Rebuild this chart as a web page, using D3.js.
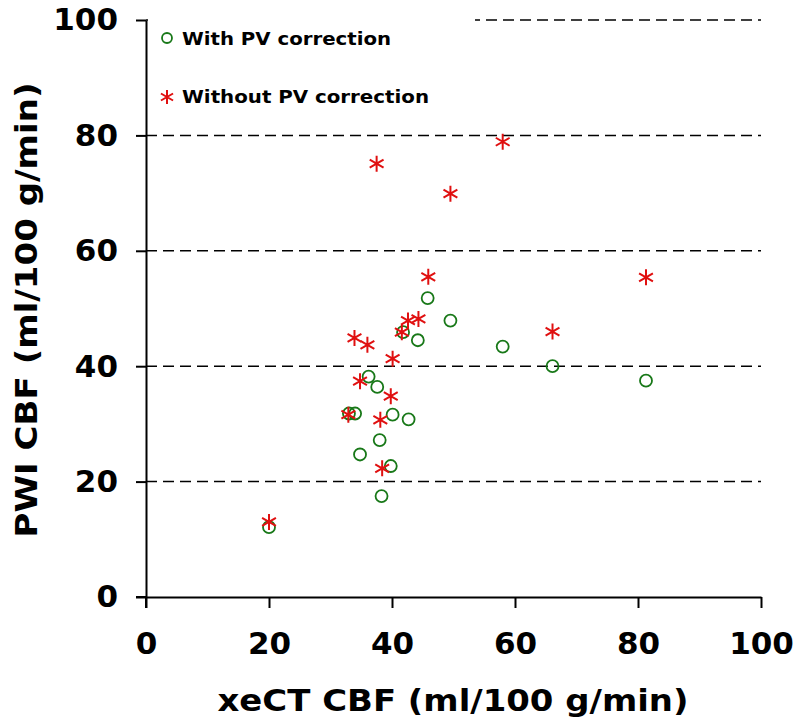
<!DOCTYPE html>
<html>
<head>
<meta charset="utf-8">
<script src="https://cdn.jsdelivr.net/npm/d3@7"></script>
<style>
  body { margin: 0; background: #fff; }
  text { font-family: "DejaVu Sans", Verdana, sans-serif; font-weight: bold; }
</style>
</head>
<body>
<div id="chart"></div>
<script>
// values
var withX    = [45.8, 49.5, 41.8, 44.2, 58.0, 36.2, 37.6, 34.0, 33.0, 40.1, 42.7, 38.0, 34.8, 39.8, 38.3, 20.0, 66.1, 81.3];
var withY    = [51.8, 47.9, 45.9, 44.5, 43.4, 38.2, 36.4, 31.8, 31.8, 31.6, 30.8, 27.2, 24.7, 22.7, 17.5, 12.1, 40.0, 37.5];
var withoutX = [20.0, 37.5, 58.0, 49.5, 45.9, 81.3, 66.1, 42.6, 44.3, 41.6, 33.9, 36.0, 40.1, 34.8, 39.8, 32.9, 38.1, 38.4];
var withoutY = [13.0, 75.1, 78.9, 69.9, 55.5, 55.4, 46.0, 47.9, 48.2, 45.9, 44.9, 43.7, 41.3, 37.4, 34.8, 31.6, 30.7, 22.3];
var xTicks = [0, 20, 40, 60, 80, 100];
var yTicks = [0, 20, 40, 60, 80, 100];
var gridValues = [20, 40, 60, 80, 100];
var seriesNames = ["With PV correction", "Without PV correction"];

var W = 800, H = 726;
var margin = {top: 20, right: 39, bottom: 129, left: 146},
    width = W - margin.left - margin.right,
    height = H - margin.top - margin.bottom;

var svg = d3.select("#chart")
  .append("svg")
    .attr("width", W)
    .attr("height", H);

var g = svg.append("g")
    .attr("transform", "translate(" + margin.left + "," + margin.top + ")");

var x = d3.scaleLinear().domain([0, 100]).range([0, width]);
var y = d3.scaleLinear().domain([0, 100]).range([height, 0]);

// dashed gridlines
g.selectAll("line.grid")
  .data(gridValues)
  .enter()
  .append("line")
    .attr("class", "grid")
    .attr("x1", 0)
    .attr("x2", x(100))
    .attr("y1", function(d) { return y(d); })
    .attr("y2", function(d) { return y(d); })
    .attr("stroke", "#000")
    .attr("stroke-width", 1.5)
    .attr("stroke-dasharray", "11,6");

// legend background hides the top gridline on the left
g.append("rect")
    .attr("x", 2)
    .attr("y", -margin.top)
    .attr("width", x(53.5) - 2)
    .attr("height", 110)
    .attr("fill", "#fff");

// axes
var xAxis = g.append("g")
    .attr("transform", "translate(0," + height + ")")
    .call(d3.axisBottom(x).tickValues(xTicks).tickSize(11).tickSizeOuter(0).tickPadding(24));
var yAxis = g.append("g")
    .call(d3.axisLeft(y).tickValues(yTicks).tickSize(10).tickSizeOuter(0).tickPadding(18));

[xAxis, yAxis].forEach(function(a) {
  a.select(".domain").attr("stroke-width", 2);
  a.selectAll(".tick line").attr("stroke-width", 2);
  a.selectAll(".tick text")
    .attr("font-family", "DejaVu Sans, Verdana, sans-serif")
    .attr("font-weight", "bold")
    .attr("font-size", 31)
    .attr("fill", "#000");
});
// extend axis lines a little past the origin
g.append("line").attr("x1", -10).attr("x2", 0).attr("y1", y(0)).attr("y2", y(0)).attr("stroke", "#000").attr("stroke-width", 2);
g.append("line").attr("x1", 0).attr("x2", 0).attr("y1", y(0)).attr("y2", y(0) + 11).attr("stroke", "#000").attr("stroke-width", 2);

// axis titles
svg.append("text")
    .attr("x", 453)
    .attr("y", 711)
    .attr("text-anchor", "middle")
    .attr("font-size", 31)
    .attr("textLength", 471)
    .attr("lengthAdjust", "spacingAndGlyphs")
    .text("xeCT CBF (ml/100 g/min)");

svg.append("text")
    .attr("transform", "translate(37,310) rotate(-90)")
    .attr("text-anchor", "middle")
    .attr("font-size", 31)
    .attr("textLength", 455)
    .attr("lengthAdjust", "spacingAndGlyphs")
    .text("PWI CBF (ml/100 g/min)");

// star marker path (6 arms)
function starPath(r) {
  var p = "";
  for (var i = 0; i < 3; i++) {
    var a = Math.PI / 2 + i * Math.PI / 3;
    var dx = r * Math.cos(a), dy = r * Math.sin(a);
    p += "M" + (-dx) + "," + (-dy) + "L" + dx + "," + dy;
  }
  return p;
}

var green = "#187818", red = "#e01010";

var withData = withX.map(function(v, i) { return {x: v, y: withY[i]}; });
var withoutData = withoutX.map(function(v, i) { return {x: v, y: withoutY[i]}; });

g.selectAll("circle.with")
  .data(withData)
  .enter()
  .append("circle")
    .attr("class", "with")
    .attr("cx", function(d) { return x(d.x); })
    .attr("cy", function(d) { return y(d.y); })
    .attr("r", 6)
    .attr("fill", "none")
    .attr("stroke", green)
    .attr("stroke-width", 1.8);

g.selectAll("path.without")
  .data(withoutData)
  .enter()
  .append("path")
    .attr("class", "without")
    .attr("transform", function(d) { return "translate(" + x(d.x) + "," + y(d.y) + ")"; })
    .attr("d", starPath(8))
    .attr("stroke", red)
    .attr("stroke-width", 2);

// legend
var legend = svg.append("g");
legend.append("circle")
    .attr("cx", 167).attr("cy", 38).attr("r", 5)
    .attr("fill", "none").attr("stroke", green).attr("stroke-width", 1.8);
legend.append("text")
    .attr("x", 182).attr("y", 45)
    .attr("font-size", 18)
    .attr("textLength", 209)
    .attr("lengthAdjust", "spacingAndGlyphs")
    .text(seriesNames[0]);
legend.append("path")
    .attr("transform", "translate(167,97)")
    .attr("d", starPath(7))
    .attr("stroke", red).attr("stroke-width", 2);
legend.append("text")
    .attr("x", 182).attr("y", 103)
    .attr("font-size", 18)
    .attr("textLength", 247)
    .attr("lengthAdjust", "spacingAndGlyphs")
    .text(seriesNames[1]);
</script>
</body>
</html>
